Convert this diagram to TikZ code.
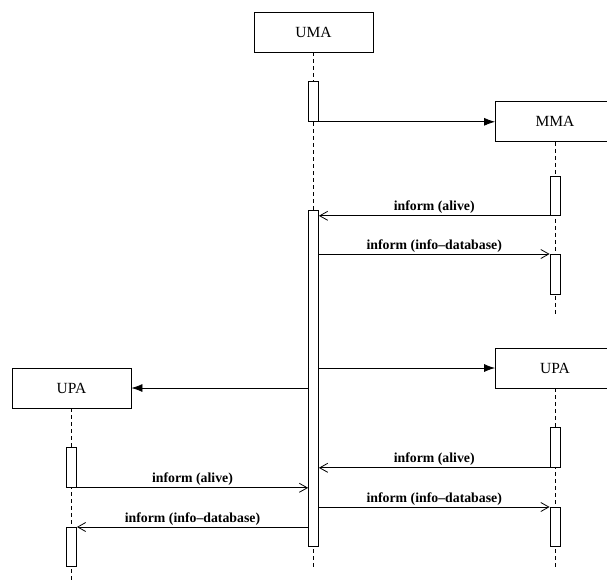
\documentclass[tikz,border=0pt]{standalone}
\usepackage{fontspec}
\setmainfont{Liberation Serif}
\usetikzlibrary{arrows.meta, positioning}

\tikzset{
    agent/.style={draw, line width=0.8pt, minimum width=119pt, minimum height=40pt, inner sep=0pt, font=\fontsize{15.5}{17}\selectfont},
    act/.style={draw, line width=0.8pt, fill=white, minimum width=10pt, inner sep=0pt, anchor=north},
    life/.style={line width=0.8pt, dash pattern=on 4pt off 3pt},
    create/.style={line width=0.8pt, -{Latex[length=11pt, width=8pt]}},
    msg/.style={line width=0.8pt, -{Straight Barb[length=8pt, width=9pt]}},
    lbl/.style={above, inner sep=1.5pt, font=\bfseries\fontsize{13.8}{15}\selectfont}
}

\begin{document}
\begin{tikzpicture}[x=1pt, y=-1pt]
        \useasboundingbox (0,0) rectangle (607,581);

        \node[agent] (uma) at (313.5, 32) {UMA};
        \node[agent] (mma) at (555, 121.5) {MMA};
        \node[agent] (upar) at (555, 368) {UPA};
        \node[agent] (upal) at (71.5, 388) {UPA};

        \coordinate (umaend) at (313.5, 570);
        \coordinate (mmaend) at (555, 315);
        \coordinate (uparend) at (555, 570);
        \coordinate (upalend) at (71.5, 581);
        \draw[life] (uma.south) -- (umaend);
        \draw[life] (mma.south) -- (mmaend);
        \draw[life] (upar.south) -- (uparend);
        \draw[life] (upal.south) -- (upalend);

        \node[act, minimum height=40pt] (uact1) at (313.5, 81) {};
        \node[act, minimum height=336pt] (uact2) at (313.5, 210) {};
        \node[act, minimum height=39pt] (mact1) at (555, 176) {};
        \node[act, minimum height=40pt] (mact2) at (555, 254) {};
        \node[act, minimum height=40pt] (upract1) at (555, 427) {};
        \node[act, minimum height=39pt] (upract2) at (555, 507) {};
        \node[act, minimum height=40pt] (uplact1) at (71.5, 447) {};
        \node[act, minimum height=39pt] (uplact2) at (71.5, 527) {};

        \draw[create] (uact1.south east) -- (mma.west |- uact1.south east);
        \draw[create] (uact2.east |- upar.west) -- (upar.west);
        \draw[create] (uact2.west |- upal.east) -- (upal.east);

        \draw[msg] (mact1.south west) -- (uact2.east |- mact1.south west) node[lbl, midway] {inform (alive)};
        \draw[msg] (uact2.east |- mact2.north west) -- (mact2.north west) node[lbl, midway] {inform (info--database)};
        \draw[msg] (upract1.south west) -- (uact2.east |- upract1.south west) node[lbl, midway] {inform (alive)};
        \draw[msg] (uact2.east |- upract2.north west) -- (upract2.north west) node[lbl, midway] {inform (info--database)};
        \draw[msg] (uplact1.south east) -- (uact2.west |- uplact1.south east) node[lbl, midway] {inform (alive)};
        \draw[msg] (uact2.west |- uplact2.north east) -- (uplact2.north east) node[lbl, midway] {inform (info--database)};
\end{tikzpicture}
\end{document}
